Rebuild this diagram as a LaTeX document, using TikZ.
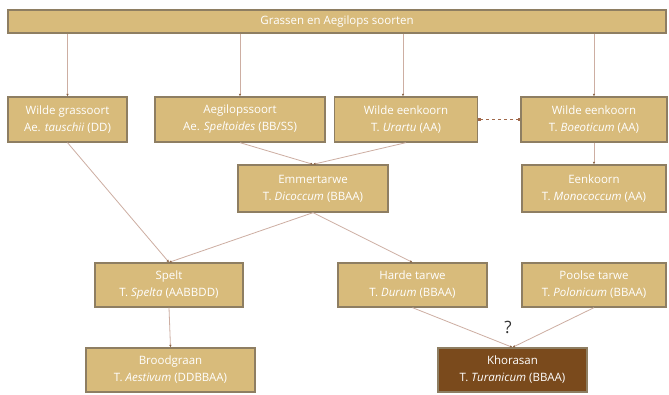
\documentclass[tikz,border=0pt]{standalone}
\usepackage{fontspec}
\setmainfont{Open Sans}
\usetikzlibrary{arrows.meta}
\definecolor{boxfill}{HTML}{D8BB7B}
\definecolor{boxline}{HTML}{8E7E62}
\definecolor{darkfill}{HTML}{7A4A1C}
\definecolor{conn}{HTML}{CDAEA2}
\definecolor{tipc}{HTML}{8A6446}
\definecolor{dotc}{HTML}{A0684A}
\begin{document}
\begin{tikzpicture}[x=1pt,y=-1pt,
  wbox/.style={draw=boxline,line width=1.3pt,fill=boxfill,text=white,inner sep=0pt,
    align=center,font=\fontsize{11.5}{17}\selectfont},
  kbox/.style={wbox,fill=darkfill},
  conline/.style={draw=conn,line width=0.8pt,-{Latex[length=2.5pt,width=2.5pt,color=tipc]}},
  plainline/.style={draw=conn,line width=0.8pt}]
\useasboundingbox (0,0) rectangle (669,394);
\fill[white] (0,0) rectangle (669,394);
\node[wbox,minimum width=658pt,minimum height=23pt] (top) at (337,21.5) {Grassen en Aegilops soorten};
\node[wbox,minimum width=119pt,minimum height=45pt] (A) at (67.5,119.5) {Wilde grassoort\\Ae. \textit{tauschii} (DD)};
\node[wbox,minimum width=170pt,minimum height=45pt] (B) at (240,119.5) {Aegilopssoort\\Ae. \textit{Speltoides} (BB/SS)};
\node[wbox,minimum width=143pt,minimum height=45pt] (C) at (406,119.5) {Wilde eenkoorn\\T. \textit{Urartu} (AA)};
\node[wbox,minimum width=146pt,minimum height=45pt] (D) at (594,119.5) {Wilde eenkoorn\\T. \textit{Boeoticum} (AA)};
\node[wbox,minimum width=150pt,minimum height=47pt] (E) at (313,188.5) {Emmertarwe\\T. \textit{Dicoccum} (BBAA)};
\node[wbox,minimum width=144pt,minimum height=47pt] (F) at (594,188.5) {Eenkoorn\\T. \textit{Monococcum} (AA)};
\node[wbox,minimum width=148pt,minimum height=44pt] (S) at (169,285) {Spelt\\T. \textit{Spelta} (AABBDD)};
\node[wbox,minimum width=149pt,minimum height=44pt] (H) at (412.5,285) {Harde tarwe\\T. \textit{Durum} (BBAA)};
\node[wbox,minimum width=144pt,minimum height=44pt] (P) at (594,285) {Poolse tarwe\\T. \textit{Polonicum} (BBAA)};
\node[wbox,minimum width=169pt,minimum height=44pt] (G) at (170.5,370) {Broodgraan\\T. \textit{Aestivum} (DDBBAA)};
\node[kbox,minimum width=149pt,minimum height=44pt] (K) at (512.5,370) {Khorasan\\T. \textit{Turanicum} (BBAA)};
\node[font=\fontsize{17}{17}\selectfont,text=black!80] (q) at (508,327) {?};
% from top bar
\draw[conline] (A.north |- top.south) -- (A.north);
\draw[conline] (B.north |- top.south) -- (B.north);
\draw[conline] ([xshift=-3pt]C.north |- top.south) -- ([xshift=-3pt]C.north);
\draw[conline] (D.north |- top.south) -- (D.north);
% dotted link
\draw[draw=dotc,line width=1pt,dashed,{Square[length=2.5pt,width=2.5pt]}-{Square[length=2.5pt,width=2.5pt]}] (C.east) -- (D.west);
% lower connectors
\draw[conline] (B.south) -- (E.north);
\draw[conline] (C.south) -- (E.north);
\draw[conline] (D.south) -- (F.north);
\draw[conline] (A.south) -- (S.north);
\draw[conline] (E.south) -- (S.north);
\draw[conline] (E.south) -- (H.north);
\draw[conline] (S.south) -- (G.north);
\draw[conline] (H.south) -- (K.north);
\draw[conline] (P.south) -- (K.north);
\end{tikzpicture}
\end{document}
